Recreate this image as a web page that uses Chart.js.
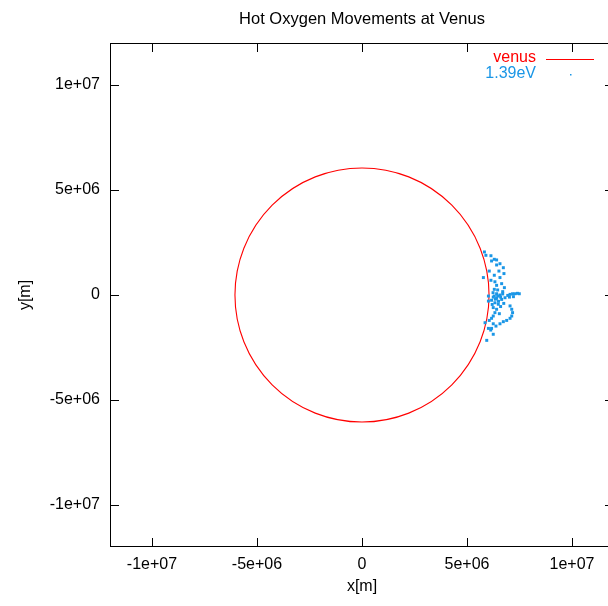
<!DOCTYPE html>
<html lang="en">

<head>
    <meta charset="UTF-8">
    <title>Hot Oxygen Movements at Venus</title>
    <script src="https://cdn.jsdelivr.net/npm/chart.js"></script>
    <style>
        html, body { margin: 0; padding: 0; background: #fff; overflow: hidden; }
        #wrap { width: 640px; height: 606px; }
    </style>
</head>

<body>
    <div id="wrap"><canvas id="orbit" width="640" height="606"></canvas></div>

    <script>
        const MEGA = 1e6;
        const venusRadius = 6.05e6; // metres
        const axisMin = -1.2e7;
        const axisMax = 1.2e7;
        const tickValues = [-1e7, -5e6, 0, 5e6, 1e7];
        const tickLabels = ['-1e+07', '-5e+06', '0', '5e+06', '1e+07'];
        const seriesLabels = ['venus', '1.39eV'];

        // hot O positions, in units of 1e6 m
        const oxygenX = [
            5.83, 5.90, 6.14, 6.30, 6.41, 6.17, 6.57, 6.41, 6.73, 6.06, 6.52, 6.76, 6.30, 5.78,
            6.57, 6.14, 6.33, 6.65, 6.41, 6.78, 6.30, 6.46, 6.70, 6.24, 6.41, 6.02, 6.57,
            6.94, 7.05, 7.17, 7.29, 7.40, 7.49, 7.02, 7.21, 6.81, 6.25, 6.41, 6.65, 6.17, 6.02, 6.33, 6.49,
            7.05, 7.13, 7.17, 7.13, 7.05, 6.89, 6.73, 6.57, 6.38, 6.17,
            6.25, 6.41, 6.33, 6.54, 6.25, 6.17, 6.06, 5.86, 6.25, 6.02, 6.13, 6.25, 5.94,
            6.30, 6.46, 6.60, 6.70, 6.35, 6.50, 6.20, 6.60, 6.75
        ];
        const oxygenY = [
            2.05, 1.89, 1.87, 1.70, 1.67, 1.62, 1.49, 1.43, 1.30, 1.14, 1.14, 1.02, 0.94, 0.83,
            0.83, 0.70, 0.63, 0.54, 0.46, 0.35, 0.27, 0.24, 0.16, 0.11, 0.06, -0.05, 0.00,
            -0.02, 0.03, 0.06, 0.06, 0.08, 0.06, -0.10, -0.08, -0.13, -0.10, -0.16, -0.21, -0.25, -0.29, -0.37, -0.44,
            -0.52, -0.68, -0.84, -1.00, -1.11, -1.21, -1.27, -1.37, -1.48, -1.59,
            -0.60, -0.68, -0.84, -0.89, -1.00, -1.11, -1.21, -1.32, -1.37, -1.59, -1.67, -1.87, -2.16,
            -0.05, -0.05, -0.10, 0.05, -0.20, -0.30, -0.45, -0.55, -0.40
        ];

        const RED = '#ff0000';
        const BLUE = '#1a96e6';
        const FONT = '"Liberation Sans", Arial, sans-serif';

        // planet outline, frame, mirrored inward ticks, title and key
        const gnuplotLook = {
            id: 'gnuplotLook',
            beforeDatasetsDraw(chart) {
                const { ctx, scales: { x, y } } = chart;
                const cx = x.getPixelForValue(0);
                const cy = y.getPixelForValue(0);
                const rx = x.getPixelForValue(venusRadius) - cx;
                const ry = cy - y.getPixelForValue(venusRadius);
                ctx.save();
                ctx.strokeStyle = RED;
                ctx.lineWidth = 1.1;
                ctx.beginPath();
                ctx.ellipse(cx, cy, rx, ry, 0, 0, Math.PI * 2);
                ctx.stroke();
                ctx.restore();
            },
            afterDraw(chart) {
                const { ctx, chartArea: a, scales: { x, y } } = chart;
                ctx.save();
                ctx.strokeStyle = '#000';
                ctx.lineWidth = 1;
                ctx.strokeRect(a.left + 0.5, a.top + 0.5, a.right - a.left - 1, a.bottom - a.top - 1);

                const len = 9;
                ctx.beginPath();
                tickValues.forEach(v => {
                    const px = Math.round(x.getPixelForValue(v)) + 0.5;
                    ctx.moveTo(px, a.bottom); ctx.lineTo(px, a.bottom - len);
                    ctx.moveTo(px, a.top); ctx.lineTo(px, a.top + len);
                    const py = Math.round(y.getPixelForValue(v)) + 0.5;
                    ctx.moveTo(a.left, py); ctx.lineTo(a.left + len, py);
                    ctx.moveTo(a.right, py); ctx.lineTo(a.right - len, py);
                });
                ctx.stroke();

                // title
                ctx.fillStyle = '#000';
                ctx.font = '16.5px ' + FONT;
                ctx.textAlign = 'center';
                ctx.textBaseline = 'middle';
                ctx.fillText('Hot Oxygen Movements at Venus', (a.left + a.right) / 2, 19);

                // key, top right
                const keyRight = a.right - 78;
                ctx.font = '16px ' + FONT;
                ctx.textAlign = 'right';
                ctx.fillStyle = RED;
                ctx.fillText(seriesLabels[0], keyRight, a.top + 15);
                ctx.strokeStyle = RED;
                ctx.beginPath();
                ctx.moveTo(keyRight + 10, a.top + 16.5);
                ctx.lineTo(keyRight + 58, a.top + 16.5);
                ctx.stroke();
                ctx.fillStyle = BLUE;
                ctx.fillText(seriesLabels[1], keyRight, a.top + 31);
                ctx.fillRect(keyRight + 34, a.top + 31, 1.5, 1.5);
                ctx.restore();
            }
        };

        const axisBase = {
            type: 'linear',
            min: axisMin,
            max: axisMax,
            grid: { display: false, drawTicks: false },
            border: { display: false },
            afterBuildTicks: scale => {
                scale.ticks = tickValues.map(v => ({ value: v }));
            },
            ticks: {
                color: '#000',
                font: { family: FONT, size: 16 },
                callback: (v) => tickLabels[tickValues.indexOf(v)]
            }
        };

        new Chart(document.getElementById('orbit').getContext('2d'), {
            type: 'scatter',
            data: {
                datasets: [{
                    label: seriesLabels[1],
                    data: oxygenX.map((v, i) => ({ x: v * MEGA, y: oxygenY[i] * MEGA })),
                    pointStyle: 'rect',
                    pointRadius: 2.1,
                    pointBorderWidth: 0,
                    backgroundColor: BLUE,
                    borderColor: BLUE
                }]
            },
            options: {
                responsive: false,
                animation: false,
                layout: { padding: { top: 43, right: 26, bottom: 6, left: 12 }, autoPadding: false },
                plugins: { legend: { display: false }, tooltip: { enabled: false } },
                scales: {
                    x: {
                        ...axisBase,
                        position: 'bottom',
                        ticks: { ...axisBase.ticks, padding: 8, maxRotation: 0 },
                        title: { display: true, text: 'x[m]', color: '#000', font: { family: FONT, size: 16 } },
                        afterFit: scale => { scale.height = 53; }
                    },
                    y: {
                        ...axisBase,
                        position: 'left',
                        ticks: { ...axisBase.ticks, padding: 10 },
                        title: { display: true, text: 'y[m]', color: '#000', font: { family: FONT, size: 16 } },
                        afterFit: scale => { scale.width = 98; }
                    }
                }
            },
            plugins: [gnuplotLook]
        });
    </script>
</body>

</html>
